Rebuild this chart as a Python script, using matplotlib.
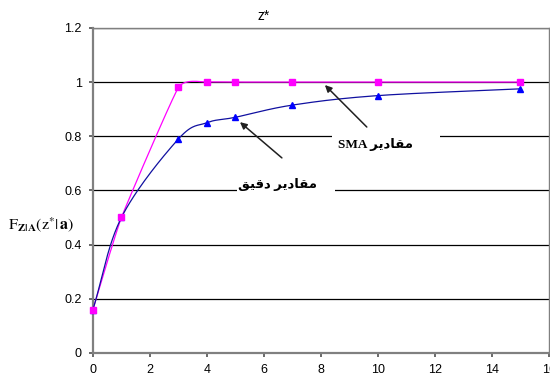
import numpy as np
import matplotlib.pyplot as plt
from matplotlib.patches import Rectangle

plt.rcParams['mathtext.fontset'] = 'stix'

z = [0, 1, 3, 4, 5, 7, 10, 15]
sma = [0.16, 0.5, 0.98, 1.0, 1.0, 1.0, 1.0, 1.0]
exact = [0.16, 0.5, 0.79, 0.85, 0.87, 0.915, 0.95, 0.975]

# Arabic labels in presentation forms, visual order
lbl_sma = "SMA \ufeae\ufef3\ufea9\ufe8e\ufed8\ufee3"
lbl_exact = "\ufed6\ufef4\ufed7\ufea9 \ufeae\ufef3\ufea9\ufe8e\ufed8\ufee3"


def smooth(x, y, k=6, n=30):
    # Catmull-Rom style smoothing, like Excel's smoothed line
    x = np.asarray(x, float)
    y = np.asarray(y, float)
    px = np.concatenate([[2 * x[0] - x[1]], x, [2 * x[-1] - x[-2]]])
    py = np.concatenate([[2 * y[0] - y[1]], y, [2 * y[-1] - y[-2]]])
    xs, ys = [], []
    t = np.linspace(0, 1, n)
    for i in range(1, len(px) - 2):
        p0, p1, p2, p3 = [np.array([px[j], py[j]]) for j in range(i - 1, i + 3)]
        c1 = p1 + (p2 - p0) / k
        c2 = p2 - (p3 - p1) / k
        b = (np.outer((1 - t) ** 3, p1) + np.outer(3 * (1 - t) ** 2 * t, c1)
             + np.outer(3 * (1 - t) * t ** 2, c2) + np.outer(t ** 3, p2))
        xs.extend(b[:, 0])
        ys.extend(b[:, 1])
    return xs, ys


fig = plt.figure(figsize=(5.5, 3.77), dpi=100)
ax = fig.add_axes([0.169, 0.064, 0.829, 0.862])

ax.set_axisbelow(True)
ax.yaxis.grid(True, color='black', linewidth=0.9)
ax.set_xlim(0, 16)
ax.set_ylim(0, 1.2)
ax.set_xticks(range(0, 17, 2))
ax.set_yticks([0, 0.2, 0.4, 0.6, 0.8, 1, 1.2])
ax.set_yticklabels(['0', '0.2', '0.4', '0.6', '0.8', '1', '1.2'])
for s in ax.spines.values():
    s.set_color('#808080')
    s.set_linewidth(1.0)
ax.spines['left'].set_linewidth(1.6)
ax.spines['bottom'].set_linewidth(1.6)
ax.tick_params(direction='out', length=3, width=1.2, color='#505050',
               labelsize=9, pad=5)
for lab in ax.get_xticklabels() + ax.get_yticklabels():
    lab.set_family('Liberation Sans')

sx, sy = smooth(z, sma, k=14)
ax.plot(sx, sy, color='#ff00ff', linewidth=0.9, zorder=3, clip_on=False)
ex, ey = smooth(z, exact)
ax.plot(ex, ey, color='#1010a0', linewidth=0.9, zorder=3, clip_on=False)
ax.plot(z, exact, linestyle='none', marker='^', markersize=5,
        color='#0000ff', zorder=4, clip_on=False)
ax.plot(z, sma, linestyle='none', marker='s', markersize=4.5,
        color='#ff00ff', zorder=5, clip_on=False)

# white gaps in grid lines behind labels
ax.add_patch(Rectangle((8.39, 0.78), 3.79, 0.04, facecolor='white',
                       edgecolor='none', zorder=2))
ax.add_patch(Rectangle((5.05, 0.58), 3.44, 0.04, facecolor='white',
                       edgecolor='none', zorder=2))

fam = ['Liberation Serif', 'DejaVu Sans']
ax.text(9.9, 0.768, lbl_sma, ha='center', va='center', fontsize=9.5,
        fontweight='bold', family=fam, zorder=6)
ax.text(6.49, 0.62, lbl_exact, ha='center', va='center', fontsize=9.5,
        fontweight='bold', family=fam, zorder=6)

ax.annotate('', xy=(8.14, 0.989), xytext=(9.61, 0.834),
            arrowprops=dict(arrowstyle='-|>', color='#202020', lw=1.1,
                            mutation_scale=10, shrinkA=0, shrinkB=0), zorder=6)
ax.annotate('', xy=(5.16, 0.852), xytext=(6.63, 0.72),
            arrowprops=dict(arrowstyle='-|>', color='#202020', lw=1.1,
                            mutation_scale=10, shrinkA=0, shrinkB=0), zorder=6)

fig.text(264 / 550, 1 - 16 / 377, 'z*', ha='center', va='center',
         fontsize=10, family='Liberation Sans')
fig.text(8 / 550, 1 - 225 / 377,
         r'$\mathrm{F}_{\mathbf{Z|A}}(\mathrm{z}^{*}|\,\mathbf{a})$',
         ha='left', va='center', fontsize=11.5)

fig.savefig('out.png', dpi=100)
